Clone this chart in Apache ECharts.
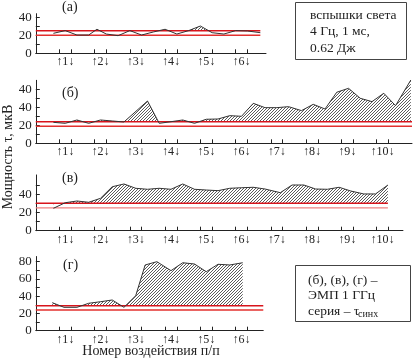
<!DOCTYPE html>
<html><head><meta charset="utf-8">
<script src="https://cdn.jsdelivr.net/npm/echarts@6/dist/echarts.min.js"></script>
<style>html,body{margin:0;padding:0;background:#fff}#c{width:413px;height:362px}</style>
</head><body><div id="c"></div>
<script>
// ---- data (x in sample units, y in мкВ) ----
const aX = [1.5,2.5,3.5,4.5,5.2,6,7,8,9,10,11,12,13,14,15,16,17,18,19.1];
const aY = [22.2,25.2,20.3,20.3,26.7,21.4,19.6,25.2,20.3,23.7,26.7,21.4,25.2,30.3,22.9,21.4,25.2,24.8,22.9];
const bX = [1.5,2.5,3.5,4.5,5.5,6.5,7.5,9.5,10.5,11.5,12.5,13.5,14.5,15.5,16.5,17.5,18.5,19.5,20.5,21.5,22.6,23.6,24.6,25.6,26.6,27.6,28.6,29.6,30.6,31.9];
const bY = [23.3,22.2,25.9,22.2,25.9,24.8,23.7,47,22.2,24,25.9,22.2,26.7,27,30.7,30,44.4,39.6,39.6,40.7,36.3,43.3,38.1,56.7,61.1,50,46.3,55.6,41.8,70.3];
const vX = [1.5,2.5,3.5,4.5,5.5,6.5,7.5,8.5,9.5,10.5,11.5,12.5,13.5,14.5,15.5,16.5,17.5,18.5,19.5,20.8,21.8,22.8,23.8,24.8,25.8,26.8,27.9,28.9,29.95];
const vY = [24.5,30.6,32.5,31.1,35.4,48.1,51.1,46.4,45.3,46.4,45.3,51.1,45.3,44.5,43.8,46.4,47,47.5,45.6,41.6,50,50,45.6,45.3,47.5,43.4,40.2,40.2,50];
const gX = [1.4,2.4,3.5,4.5,5.5,6.5,7.5,8.5,9.3,10.3,11.5,12.5,13.5,14.5,15.5,16.5,17.6];
const gY = [32.5,27.1,27.1,31.8,33.6,35.6,27.1,40.6,76.2,80,69.6,78.8,77.3,68.4,77,76.2,78.8];
// thresholds (upper, lower)
const aThr = [25, 20], bThr = [24, 19], vThr = [30, 25], gThr = [29, 24];
// y tick labels
const aYLab = ['0','20','40'], bYLab = ['0','20','40','40'], vYLab = ['0','20','40'], gYLab = ['0','20','40','60','80'];
const groupsA = 6, groupsB = 10, groupsV = 10, groupsG = 6;

const FONT = '"Liberation Serif", "DejaVu Serif", serif';
const hatch = (() => {
  const c = document.createElement('canvas'); c.width = 3; c.height = 3;
  const g = c.getContext('2d'); g.fillStyle = '#fff'; g.fillRect(0,0,3,3);
  g.fillStyle = '#5a5a5a'; g.fillRect(0,2,1,1); g.fillRect(1,1,1,1); g.fillRect(2,0,1,1);
  return c;
})();

const SX = 11.756, LEFT = 35.8;
const panels = [
  {xs:aX, ys:aY, thr:aThr, lab:aYLab, groups:groupsA, xmax:19.58, y0:53.3, sc:0.9, ymax:44, ticks:[0,10,20,30,40], redEnd:19.1, lowCol:'#e3302e'},
  {xs:bX, ys:bY, thr:bThr, lab:bYLab, groups:groupsB, xmax:32, y0:143.3, sc:0.9, ymax:70, ticks:[0,10,20,30,40,50,60], redEnd:32, lowCol:'#e3302e'},
  {xs:vX, ys:vY, thr:vThr, lab:vYLab, groups:groupsV, xmax:31.23, y0:230.7, sc:0.914, ymax:61, ticks:[0,10,20,30,40,50], redEnd:29.95, lowCol:'#ef8080'},
  {xs:gX, ys:gY, thr:gThr, lab:gYLab, groups:groupsG, xmax:19.35, y0:330.7, sc:0.8625, ymax:86, ticks:[0,10,20,30,40,50,60,70,80], redEnd:19.35, lowCol:'#e3302e'}
];

const grid = [], xAxis = [], yAxis = [], series = [];
panels.forEach((p, i) => {
  const h = p.ymax * p.sc;
  grid.push({left: LEFT, top: p.y0 - h, width: p.xmax * SX, height: h});
  const xt = [], xl = [];
  for (let k = 1; k <= p.groups; k++) { xt.push(3*k-1, 3*k); xl.push(3*k-0.5); }
  xAxis.push({
    gridIndex: i, type: 'value', min: 0, max: p.xmax,
    axisLine: {onZero: false, lineStyle: {color: '#222', width: 1}},
    splitLine: {show: false},
    axisTick: {show: true, inside: true, length: 4, customValues: xt, lineStyle: {color: '#222'}},
    axisLabel: {show: true, customValues: xl, margin: 3, fontFamily: FONT, fontSize: 12, color: '#222', hideOverlap: false,
      formatter: v => '↑' + Math.round((v + 0.5) / 3) + '↓'}
  });
  const yl = p.lab.map((s, j) => j*20);
  yAxis.push({
    gridIndex: i, type: 'value', min: 0, max: p.ymax,
    axisLine: {show: true, lineStyle: {color: '#222', width: 1}},
    splitLine: {show: false},
    axisTick: {show: true, inside: true, length: 4, customValues: p.ticks, lineStyle: {color: '#222'}},
    axisLabel: {show: true, customValues: yl, margin: 4, fontFamily: FONT, fontSize: 13, color: '#222',
      formatter: v => p.lab[Math.round(v/20)]}
  });
  const pts = p.xs.map((x, j) => [x, p.ys[j]]);
  const base = {xAxisIndex: i, yAxisIndex: i, type: 'line', symbol: 'none', silent: true, animation: false};
  series.push(Object.assign({}, base, {data: pts, z: 1, lineStyle: {width: 0}, areaStyle: {color: {image: hatch, repeat: 'repeat'}, opacity: 1, origin: p.thr[0]}}));
  series.push(Object.assign({}, base, {data: [[p.xs[0], p.thr[0]], [p.xs[p.xs.length-1], p.thr[0]]], z: 2, lineStyle: {width: 0}, areaStyle: {color: '#fff', opacity: 1, origin: 14}}));
  series.push(Object.assign({}, base, {data: [[0, p.thr[1]], [p.redEnd, p.thr[1]]], z: 3, lineStyle: {color: p.lowCol, width: 1.4}}));
  series.push(Object.assign({}, base, {data: [[0, p.thr[0]], [p.redEnd, p.thr[0]]], z: 3, lineStyle: {color: '#d8141c', width: 1.4}}));
  series.push(Object.assign({}, base, {data: pts, z: 4, lineStyle: {color: '#333', width: 1}}));
});

const txt = (x, y, text, size, extra) => Object.assign({type: 'text', x, y, style: {text, fill: '#222', font: size + 'px ' + FONT, verticalAlign: 'middle', align: 'left'}}, extra || {});
const graphic = [
  txt(62, 7, '(а)', 14), txt(62, 93, '(б)', 14), txt(62, 178, '(в)', 14), txt(63, 265, '(г)', 14),
  {type: 'rect', shape: {x: 295.5, y: 2.5, width: 111, height: 57}, style: {fill: '#fff', stroke: '#444', lineWidth: 1}},
  txt(310, 15, 'вспышки света', 13.5), txt(310, 31.7, '4 Гц, 1 мс,', 13.5), txt(310, 48.3, '0.62 Дж', 13.5),
  {type: 'rect', shape: {x: 295.5, y: 265.5, width: 115, height: 56}, style: {fill: '#fff', stroke: '#444', lineWidth: 1}},
  txt(308, 280, '(б), (в), (г) –', 13.5), txt(308, 295.5, 'ЭМП 1 ГГц', 13.5), txt(308, 311, 'серия – τ', 13.5), txt(358, 314, 'синх', 10),
  {type: 'text', x: 8, y: 157, rotation: Math.PI/2, style: {text: 'Мощность τ, мкВ', fill: '#222', font: '14px ' + FONT, align: 'center', verticalAlign: 'middle'}},
  {type: 'text', x: 151, y: 351, style: {text: 'Номер воздействия п/п', fill: '#222', font: '14px ' + FONT, align: 'center', verticalAlign: 'middle'}}
];

const chart = echarts.init(document.getElementById('c'), null, {renderer: 'canvas'});
chart.setOption({animation: false, grid, xAxis, yAxis, series, graphic});
</script></body></html>
